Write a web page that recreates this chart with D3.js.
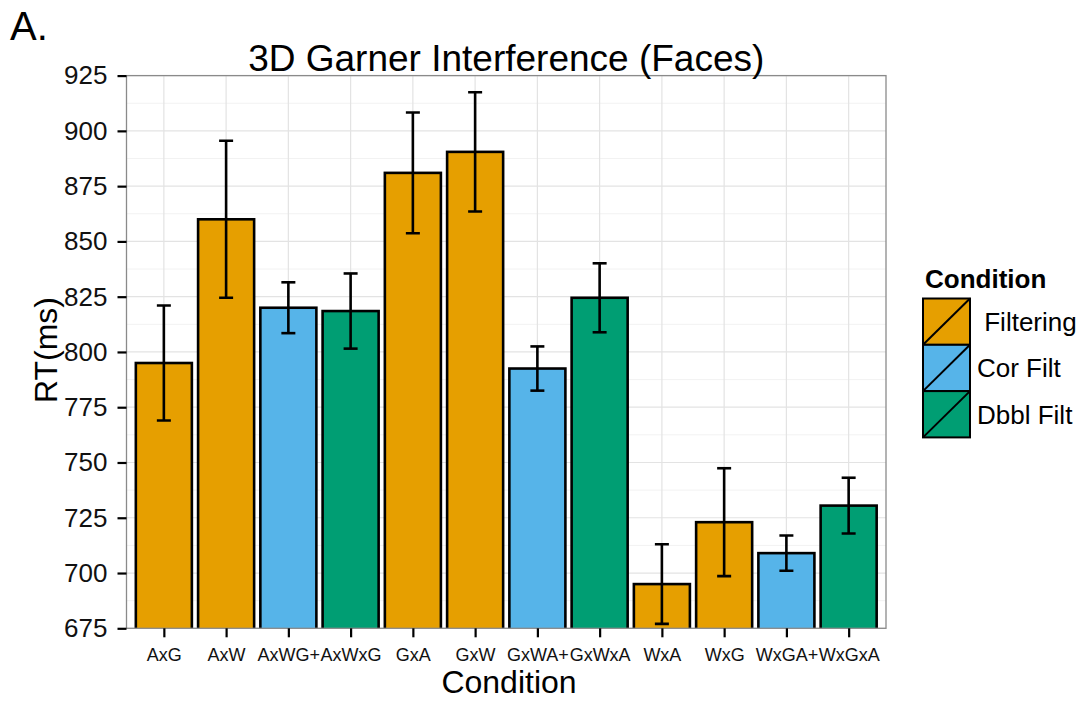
<!DOCTYPE html>
<html>
<head>
<meta charset="utf-8">
<script src="https://cdn.jsdelivr.net/npm/d3@7"></script>
<style>
  html, body { margin: 0; padding: 0; background: #fff; }
  svg { display: block; font-family: "Liberation Sans", Arial, Helvetica, sans-serif; }
</style>
</head>
<body>
<svg id="chart" width="1085" height="702"></svg>
<script>
// ---- data ----
const categories = ["AxG","AxW","AxWG+","AxWxG","GxA","GxW","GxWA+","GxWxA","WxA","WxG","WxGA+","WxGxA"];
const groups     = ["Filtering","Filtering","Cor Filt","Dbbl Filt","Filtering","Filtering","Cor Filt","Dbbl Filt","Filtering","Filtering","Cor Filt","Dbbl Filt"];
const meanRT     = [795, 860, 820, 818.5, 881, 890.5, 792.5, 824.5, 695, 723, 709, 730.5];
const errRT      = [26, 35.5, 11.5, 17, 27.3, 27, 10, 15.6, 18, 24.4, 8, 12.6];
const yTicks     = [675, 700, 725, 750, 775, 800, 825, 850, 875, 900, 925];
const legendKeys = ["Filtering","Cor Filt","Dbbl Filt"];
const legendLabels = [" Filtering","Cor Filt","Dbbl Filt"];
const legendColors = ["#E69F00","#56B4E9","#009E73"];

// ---- layout ----
const svg = d3.select("#chart");
const P = {left: 126.5, right: 886, top: 75.6, bottom: 628.3};

const color = d3.scaleOrdinal().domain(legendKeys).range(legendColors);

// ggplot-like discrete scale: 0.6 expansion each side
const step = (P.right - P.left) / (categories.length - 1 + 1.2);
const x = d3.scalePoint().domain(categories)
  .range([P.left + 0.6 * step, P.right - 0.6 * step]);
const barW = 0.9 * step;

const y = d3.scaleLinear().domain([675, 925]).range([P.bottom, P.top]);

// clip
svg.append("defs").append("clipPath").attr("id", "panel")
  .append("rect").attr("x", P.left).attr("y", P.top)
  .attr("width", P.right - P.left).attr("height", P.bottom - P.top);

// grid
const minor = d3.range(687.5, 925, 25);
svg.append("g").selectAll("line").data(minor).join("line")
  .attr("x1", P.left).attr("x2", P.right)
  .attr("y1", d => y(d)).attr("y2", d => y(d))
  .attr("stroke", "#f2f2f2").attr("stroke-width", 1);
svg.append("g").selectAll("line").data(yTicks).join("line")
  .attr("x1", P.left).attr("x2", P.right)
  .attr("y1", d => y(d)).attr("y2", d => y(d))
  .attr("stroke", "#e3e3e3").attr("stroke-width", 1.2);
svg.append("g").selectAll("line").data(categories).join("line")
  .attr("x1", d => x(d)).attr("x2", d => x(d))
  .attr("y1", P.top).attr("y2", P.bottom)
  .attr("stroke", "#e3e3e3").attr("stroke-width", 1.2);

// bars
const gBars = svg.append("g").attr("clip-path", "url(#panel)");
gBars.selectAll("rect").data(categories).join("rect")
  .attr("x", d => x(d) - barW / 2)
  .attr("width", barW)
  .attr("y", (d, i) => y(meanRT[i]))
  .attr("height", (d, i) => y(675) + 5 - y(meanRT[i]))
  .attr("fill", (d, i) => color(groups[i]))
  .attr("stroke", "#000").attr("stroke-width", 2.6);

// error bars
const capW = 14;
const gErr = svg.append("g").attr("clip-path", "url(#panel)")
  .attr("stroke", "#000").attr("stroke-width", 2.6);
categories.forEach((c, i) => {
  const cx = x(c), lo = y(meanRT[i] - errRT[i]), hi = y(meanRT[i] + errRT[i]);
  gErr.append("line").attr("x1", cx).attr("x2", cx).attr("y1", lo).attr("y2", hi);
  gErr.append("line").attr("x1", cx - capW/2).attr("x2", cx + capW/2).attr("y1", lo).attr("y2", lo);
  gErr.append("line").attr("x1", cx - capW/2).attr("x2", cx + capW/2).attr("y1", hi).attr("y2", hi);
});

// panel border
svg.append("rect").attr("x", P.left).attr("y", P.top)
  .attr("width", P.right - P.left).attr("height", P.bottom - P.top)
  .attr("fill", "none").attr("stroke", "#8a8a8a").attr("stroke-width", 1.3);

// axes
const yAxis = d3.axisLeft(y).tickValues(yTicks).tickSize(9).tickPadding(10);
const gy = svg.append("g").attr("transform", `translate(${P.left},0)`).call(yAxis);
gy.select(".domain").remove();
gy.selectAll(".tick line").attr("stroke", "#000").attr("stroke-width", 2.2);
gy.selectAll(".tick text").attr("font-size", 26).attr("fill", "#111")
  .attr("font-family", "'Liberation Sans', Arial, sans-serif");

const xAxis = d3.axisBottom(x).tickSize(9).tickPadding(11);
const gx = svg.append("g").attr("transform", `translate(0,${P.bottom})`).call(xAxis);
gx.select(".domain").remove();
gx.selectAll(".tick line").attr("stroke", "#000").attr("stroke-width", 2.2);
gx.selectAll(".tick text").attr("font-size", 18).attr("fill", "#111")
  .attr("font-family", "'Liberation Sans', Arial, sans-serif");

// titles
svg.append("text").attr("x", 10).attr("y", 40).attr("font-size", 40)
  .attr("fill", "#000").text("A.");
svg.append("text").attr("x", (P.left + P.right) / 2).attr("y", 71)
  .attr("text-anchor", "middle").attr("font-size", 37).attr("fill", "#000")
  .text("3D Garner Interference (Faces)");
svg.append("text").attr("x", 509).attr("y", 693)
  .attr("text-anchor", "middle").attr("font-size", 32).attr("fill", "#000")
  .text("Condition");
svg.append("text").attr("transform", `translate(57,350) rotate(-90)`)
  .attr("text-anchor", "middle").attr("font-size", 32).attr("fill", "#000")
  .text("RT(ms)");

// legend
const lg = svg.append("g").attr("transform", "translate(923,0)");
lg.append("text").attr("x", 2).attr("y", 288).attr("font-size", 26)
  .attr("font-weight", "bold").attr("fill", "#000").text("Condition");
const keyW = 47, keyH = 46.3, key0 = 298.5;
legendKeys.forEach((k, i) => {
  const ky = key0 + i * keyH;
  lg.append("rect").attr("x", 0).attr("y", ky).attr("width", keyW).attr("height", keyH)
    .attr("fill", color(k)).attr("stroke", "#000").attr("stroke-width", 2);
  lg.append("line").attr("x1", 0).attr("y1", ky + keyH).attr("x2", keyW).attr("y2", ky)
    .attr("stroke", "#000").attr("stroke-width", 2);
  lg.append("text").attr("x", 54).attr("y", ky + keyH / 2).attr("dy", "0.36em")
    .attr("font-size", 26).attr("fill", "#000")
    .attr("xml:space", "preserve").style("white-space", "pre")
    .text(legendLabels[i]);
});
</script>
</body>
</html>
